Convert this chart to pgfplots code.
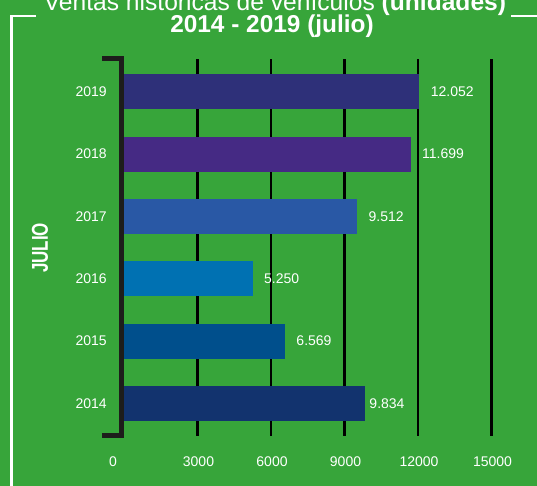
\documentclass[border=0pt]{standalone}
\usepackage{pgfplots}
\pgfplotsset{compat=1.18}
\usepackage{fontspec}
\setmainfont{Liberation Sans}
\definecolor{bg}{HTML}{37A53A}
\definecolor{brk}{HTML}{1D1D1B}
\definecolor{cA}{HTML}{2E3079}
\definecolor{cB}{HTML}{452A84}
\definecolor{cC}{HTML}{2958A5}
\definecolor{cD}{HTML}{0071B2}
\definecolor{cE}{HTML}{004F8C}
\definecolor{cF}{HTML}{12336E}
\begin{document}
\begin{tikzpicture}
\useasboundingbox (0pt,0pt) rectangle (537pt,486pt);
\clip (0pt,0pt) rectangle (537pt,486pt);
\fill[bg] (0pt,0pt) rectangle (537pt,486pt);
\draw[white, line width=2.5pt] (36pt,470pt) -- (11.5pt,470pt) -- (11.5pt,-2pt);
\draw[white, line width=2.5pt] (511pt,470pt) -- (540pt,470pt);
\node[white, font=\fontsize{24.6}{28}\selectfont, anchor=base, inner sep=0pt] at (275pt,475.5pt) {Ventas históricas de vehículos \textbf{(unidades)}};
\node[white, font=\fontsize{24.4}{28}\selectfont\bfseries, anchor=base, inner sep=0pt] at (272pt,453pt) {2014 - 2019 (julio)};
\node[white, rotate=90, inner sep=0pt] at (40pt,238pt) {\resizebox{50pt}{16pt}{\bfseries JULIO}};
\begin{axis}[
  at={(124pt,50pt)}, anchor=south west, scale only axis,
  width=367.5pt, height=377pt,
  xmin=0, xmax=15000, ymin=-0.521, ymax=5.526,
  xbar, bar width=35pt, bar shift=0pt,
  axis line style={draw=none}, tick style={draw=none},
  scaled x ticks=false,
  xtick={3000,6000,9000,12000,15000},
  extra x ticks={0}, extra x tick style={grid=none, xticklabel style={xshift=-12pt}},
  xmajorgrids, major grid style={black, line width=2.5pt},
  ytick={0,1,2,3,4,5},
  yticklabels={2014,2015,2016,2017,2018,2019},
  /pgf/number format/assume math mode=true,
  /pgf/number format/set thousands separator={},
  ticklabel style={white, font=\fontsize{14}{16}\selectfont},
  xticklabel style={anchor=base, yshift=-31pt, xshift=1pt},
  yticklabel style={anchor=east, xshift=-9.5pt},
  point meta=x,
  nodes near coords={\pgfmathprintnumber[assume math mode=true, 1000 sep={.}]{\pgfplotspointmeta}},
  nodes near coords style={white, font=\fontsize{14}{16}\selectfont, anchor=west, xshift=8pt},
]
\addplot[fill=cF, draw=none, nodes near coords style={xshift=-7pt}] coordinates {(9834,0)};
\addplot[fill=cE, draw=none] coordinates {(6569,1)};
\addplot[fill=cD, draw=none] coordinates {(5250,2)};
\addplot[fill=cC, draw=none] coordinates {(9512,3)};
\addplot[fill=cB, draw=none] coordinates {(11699,4)};
\addplot[fill=cA, draw=none] coordinates {(12052,5)};
\end{axis}
\draw[brk, line width=5pt, line join=miter] (102pt,427pt) -- (121.5pt,427pt) -- (121.5pt,50pt) -- (102pt,50pt);
\end{tikzpicture}
\end{document}
